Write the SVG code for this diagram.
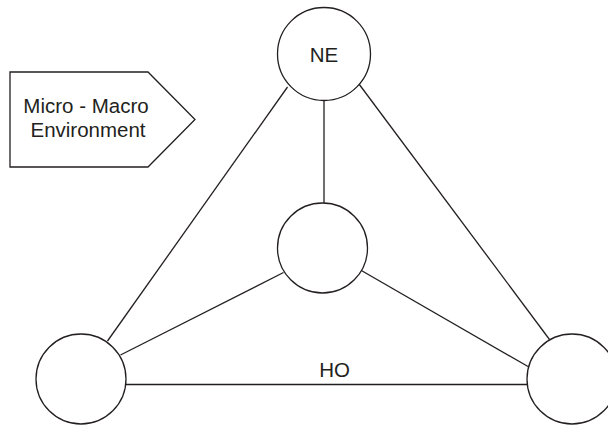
<svg xmlns="http://www.w3.org/2000/svg" width="608" height="425" viewBox="0 0 608 425">
  <style>
    .shape { fill: #ffffff; stroke: #231f20; stroke-width: 1.3; }
    .link { stroke: #231f20; stroke-width: 1.3; fill: none; }
    .label { font-family: "Liberation Sans", Arial, sans-serif; font-size: 20.5px; fill: #231f20; text-anchor: middle; }
  </style>
  <rect width="608" height="425" fill="#ffffff"/>

  <!-- connectors -->
  <g id="connectors">
    <line class="link" x1="324" y1="100" x2="324" y2="203"/>
    <line class="link" x1="287.5" y1="87" x2="107.5" y2="341"/>
    <line class="link" x1="357.5" y1="82" x2="549.5" y2="339.5"/>
    <line class="link" x1="283.5" y1="272.5" x2="120.5" y2="355"/>
    <line class="link" x1="360.5" y1="270" x2="528" y2="366.5"/>
    <line class="link" x1="126" y1="384.5" x2="527" y2="384.5"/>
    <text class="label" x="334.5" y="377">HO</text>
  </g>

  <!-- environment tag -->
  <g id="environment">
    <polygon class="shape" points="10,72 148,72 195,119.5 148,167 10,167"/>
    <text class="label" x="86" y="113">Micro - Macro</text>
    <text class="label" x="88" y="137">Environment</text>
  </g>

  <g id="node-ne">
    <circle class="shape" cx="324" cy="54" r="46.5"/>
    <text class="label" x="324" y="62">NE</text>
  </g>

  <g id="node-center">
    <circle class="shape" cx="322.5" cy="248" r="45"/>
  </g>

  <g id="node-left">
    <circle class="shape" cx="81" cy="379" r="45"/>
  </g>

  <g id="node-right">
    <circle class="shape" cx="572" cy="379" r="45"/>
  </g>
</svg>
